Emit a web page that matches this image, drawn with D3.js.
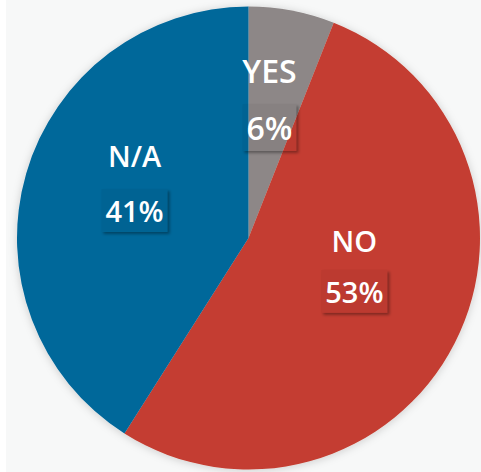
<!DOCTYPE html>
<html>
<head>
<meta charset="utf-8">
<script src="https://cdn.jsdelivr.net/npm/d3@7"></script>
<style>
  html, body { margin: 0; padding: 0; background: #ffffff; }
  svg { display: block; }
  text { font-family: "Open Sans", "Noto Sans", sans-serif; font-weight: 600; fill: #ffffff; }
</style>
</head>
<body>
<svg id="chart" width="481" height="472"></svg>
<script>
// Survey answers, in clockwise order from twelve o'clock
const categories = ["YES", "NO", "N/A"];
const values = [6, 53, 41];
const percentLabels = ["6%", "53%", "41%"];
const colors = ["#8d8787", "#c43e30", "#02679a"];

const width = 481, height = 472;
const cx = 248.5, cy = 238, radius = 231.5;

const svg = d3.select("#chart");
const defs = svg.append("defs");

// soft halo around the pie
const halo = defs.append("filter").attr("id", "halo")
  .attr("x", "-10%").attr("y", "-10%").attr("width", "120%").attr("height", "120%");
halo.append("feDropShadow").attr("dx", 0).attr("dy", 1).attr("stdDeviation", 4)
  .attr("flood-color", "#000").attr("flood-opacity", 0.18);

// outer-only shadow for the percentage tags
const tag = defs.append("filter").attr("id", "tag")
  .attr("x", "-20%").attr("y", "-20%").attr("width", "150%").attr("height", "150%");
tag.append("feGaussianBlur").attr("in", "SourceAlpha").attr("stdDeviation", 1.6).attr("result", "b");
tag.append("feOffset").attr("in", "b").attr("dx", 2).attr("dy", 2).attr("result", "o");
tag.append("feFlood").attr("flood-color", "#000").attr("flood-opacity", 0.35);
tag.append("feComposite").attr("in2", "o").attr("operator", "in").attr("result", "s");
tag.append("feComposite").attr("in", "s").attr("in2", "SourceAlpha").attr("operator", "out");

svg.append("rect").attr("x", 6).attr("y", 0)
  .attr("width", width - 6).attr("height", height).attr("fill", "#f7f8f8");

const pie = d3.pie().sort(null).value(d => d.value);
const arcs = pie(categories.map((c, i) => ({ name: c, value: values[i], label: percentLabels[i], color: colors[i] })));
const arc = d3.arc().innerRadius(0).outerRadius(radius);

const g = svg.append("g").attr("transform", `translate(${cx},${cy})`);

g.append("g").attr("filter", "url(#halo)")
  .selectAll("path").data(arcs).join("path")
  .attr("d", arc)
  .attr("fill", d => d.data.color);

// label placement: fraction of radius, angular nudge (radians), font size, half gap between lines
const labelPos = {
  "YES": { r: 0.554, dAng: -0.024, size: 32, half: 28.5 },
  "NO":  { r: 0.488, dAng: -0.115, size: 29, half: 25.5 },
  "N/A": { r: 0.527, dAng: 0.082, size: 29, half: 27.5 }
};

arcs.forEach(d => {
  const p = labelPos[d.data.name];
  const a = (d.startAngle + d.endAngle) / 2 + p.dAng;
  const rr = radius * p.r;
  const x = Math.sin(a) * rr;
  const y = -Math.cos(a) * rr;
  const lg = g.append("g").attr("transform", `translate(${x},${y})`);

  // category name
  lg.append("text")
    .attr("text-anchor", "middle")
    .attr("y", -p.half)
    .style("font-size", p.size + "px")
    .text(d.data.name);

  // percentage on a faintly tinted, shadowed tag
  const pct = lg.append("text")
    .attr("text-anchor", "middle")
    .attr("y", p.half)
    .style("font-size", p.size + "px")
    .text(d.data.label);
  const bb = pct.node().getBBox();
  const box = { x: bb.x - 4, y: bb.y - 2, w: bb.width + 8, h: bb.height + 4 };
  lg.insert("rect", "text:last-of-type")
    .attr("x", box.x).attr("y", box.y)
    .attr("width", box.w).attr("height", box.h)
    .attr("fill", "#000")
    .attr("filter", "url(#tag)");
  lg.insert("rect", "text:last-of-type")
    .attr("x", box.x).attr("y", box.y)
    .attr("width", box.w).attr("height", box.h)
    .attr("fill", "#000").attr("fill-opacity", 0.04);
});
</script>
</body>
</html>
